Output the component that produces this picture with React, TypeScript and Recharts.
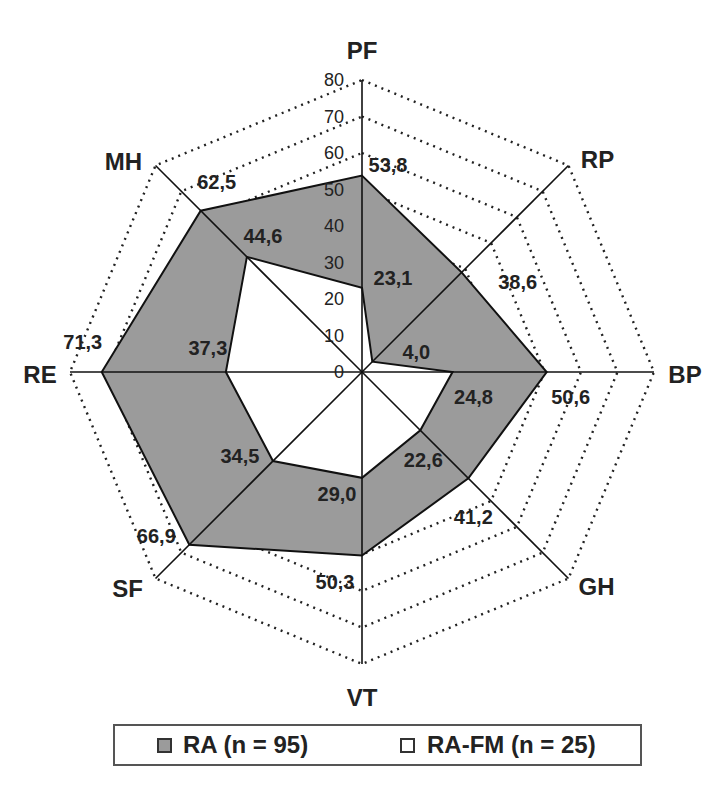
import {
  RadarChart,
  Radar,
  PolarGrid,
  PolarAngleAxis,
  PolarRadiusAxis,
  LabelList,
  Legend,
} from "recharts";

const axes = ["PF", "RP", "BP", "GH", "VT", "SF", "RE", "MH"];
const raValues = [53.8, 38.6, 50.6, 41.2, 50.3, 66.9, 71.3, 62.5];
const raFmValues = [23.1, 4.0, 24.8, 22.6, 29.0, 34.5, 37.3, 44.6];
const radiusTicks = [0, 10, 20, 30, 40, 50, 60, 70, 80];

const chartData = axes.map((axis, i) => ({ axis, ra: raValues[i], raFm: raFmValues[i] }));

const CX = 354;
const CY = 364;
const R = 292;
const FONT = '"Liberation Sans", Arial, sans-serif';
const GRAY = "#9b9b9b";

// label placement (px from the point / axis end)
const axisLabelOffset = [
  [0, -30], [29, -6], [31, 2], [28, 8], [0, 33], [-28, 10], [-30, 2], [-32, -4],
];
const raLabelOffset = [
  [26, -11], [56, 10], [24, 25], [5, 39], [-27, 26], [-33, -9], [-19, -30], [16, -29],
];
const raFmLabelOffset = [
  [31, -10], [44, -10], [21, 25], [3, 30], [-25, 16], [-33, -5], [-18, -24], [16, -21],
];

const fmt = (v: number) => v.toFixed(1).replace(".", ",");

function AngleTick(props: any) {
  const { payload, index } = props;
  const a = (payload.coordinate * Math.PI) / 180;
  const [dx, dy] = axisLabelOffset[index] ?? [0, 0];
  const x = CX + R * Math.cos(a) + dx;
  const y = CY - R * Math.sin(a) + dy;
  return (
    <text x={x} y={y + 8.5} textAnchor="middle" fontFamily={FONT} fontWeight="bold" fontSize={24} fill="#222">
      {payload.value}
    </text>
  );
}

function RadiusTick(props: any) {
  const { x, y, payload } = props;
  return (
    <text x={x - 18} y={y + 6} textAnchor="end" fontFamily={FONT} fontSize={18} fill="#222" fillOpacity={1}>
      {payload.value}
    </text>
  );
}

const valueLabel = (offsets: number[][]) => (props: any) => {
  const { x, y, value, index } = props;
  const [dx, dy] = offsets[index] ?? [0, 0];
  return (
    <text x={x + dx} y={y + dy + 7} textAnchor="middle" fontFamily={FONT} fontWeight="bold" fontSize={20} fill="#222">
      {fmt(value)}
    </text>
  );
};

// top polygon, with the spokes drawn over both fills
function PolygonWithSpokes(props: any) {
  const { points = [], fill, stroke, strokeWidth } = props;
  if (!points.length) return null;
  const d = points.map((p: any, i: number) => `${i ? "L" : "M"}${p.x},${p.y}`).join(" ") + " Z";
  return (
    <g>
      <path d={d} fill={fill} fillOpacity={1} stroke={stroke} strokeWidth={strokeWidth} strokeLinejoin="miter" />
      {points.map((p: any, i: number) => {
        const a = (p.angle * Math.PI) / 180;
        const cx = p.cx ?? CX;
        const cy = p.cy ?? CY;
        return (
          <line
            key={i}
            x1={cx}
            y1={cy}
            x2={cx + R * Math.cos(a)}
            y2={cy - R * Math.sin(a)}
            stroke="#111"
            strokeWidth={1.6}
          />
        );
      })}
    </g>
  );
}

function LegendBox() {
  const square = (fill: string) => (
    <span
      style={{
        display: "inline-block",
        width: 15,
        height: 15,
        boxSizing: "border-box",
        background: fill,
        border: "2px solid #333",
      }}
    />
  );
  return (
    <div
      style={{
        width: 529,
        height: 42,
        boxSizing: "border-box",
        border: "2px solid #555",
        position: "relative",
        fontFamily: FONT,
        fontWeight: "bold",
        fontSize: 24,
        color: "#222",
      }}
    >
      <div style={{ position: "absolute", left: 42, top: 0, height: 38, display: "flex", alignItems: "center" }}>
        {square(GRAY)}
        <span style={{ marginLeft: 11 }}>RA (n = 95)</span>
      </div>
      <div style={{ position: "absolute", left: 285, top: 0, height: 38, display: "flex", alignItems: "center" }}>
        {square("#fff")}
        <span style={{ marginLeft: 12 }}>RA-FM (n = 25)</span>
      </div>
    </div>
  );
}

export default function App() {
  return (
    <div style={{ width: 703, height: 780 }}>
      <RadarChart
        width={703}
        height={780}
        data={chartData}
        cx={CX}
        cy={CY}
        outerRadius={R}
        startAngle={90}
        endAngle={-270}
        margin={{ top: 0, right: 0, bottom: 0, left: 0 }}
      >
        <PolarGrid
          gridType="polygon"
          radialLines={false}
          stroke="#222"
          strokeWidth={2.4}
          strokeDasharray="2 5"
        />
        <PolarAngleAxis dataKey="axis" tick={<AngleTick />} tickLine={false} axisLine={false} />
        <Radar
          name="RA (n = 95)"
          dataKey="ra"
          fill={GRAY}
          fillOpacity={1}
          stroke="#111"
          strokeWidth={2}
          isAnimationActive={false}
        >
          <LabelList dataKey="ra" content={valueLabel(raLabelOffset)} />
        </Radar>
        <Radar
          name="RA-FM (n = 25)"
          dataKey="raFm"
          fill="#ffffff"
          fillOpacity={1}
          stroke="#111"
          strokeWidth={2}
          shape={PolygonWithSpokes}
          isAnimationActive={false}
        >
          <LabelList dataKey="raFm" content={valueLabel(raFmLabelOffset)} />
        </Radar>
        <PolarRadiusAxis
          angle={90}
          domain={[0, 80]}
          ticks={radiusTicks as any}
          tickCount={9}
          tick={<RadiusTick />}
          axisLine={false}
          tickLine={false}
        />
        <Legend
          content={<LegendBox />}
          wrapperStyle={{ left: 105, top: 716, width: 529, height: 42 }}
        />
      </RadarChart>
    </div>
  );
}
